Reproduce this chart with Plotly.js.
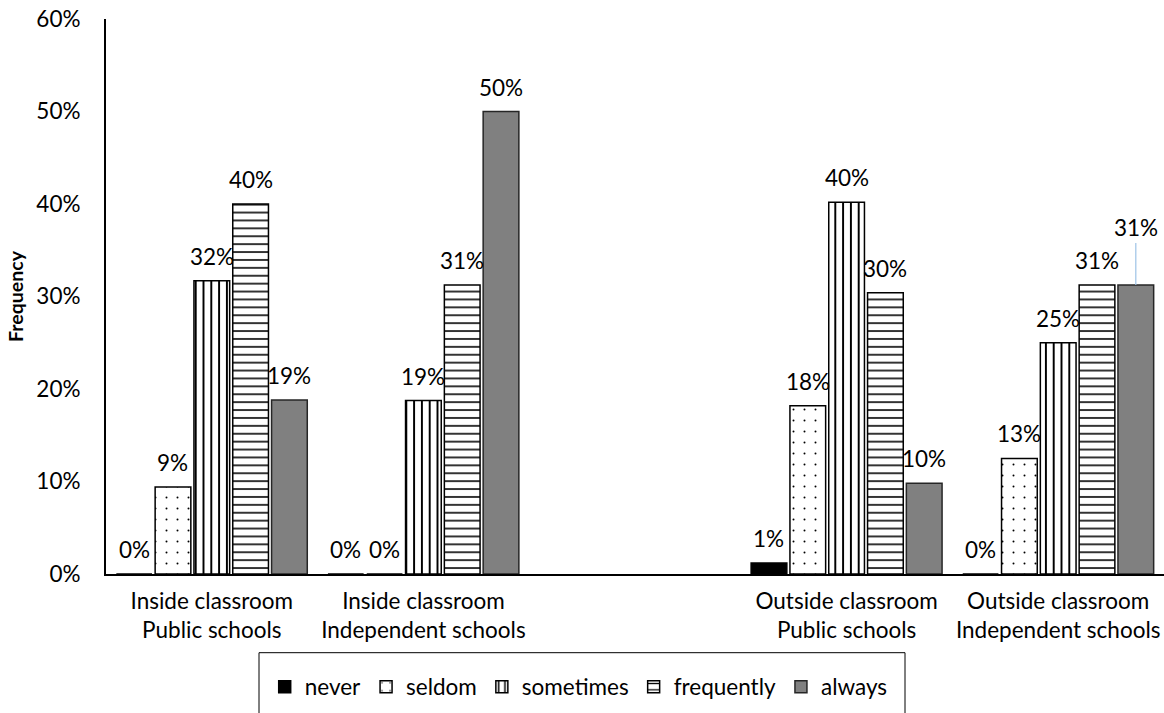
<!DOCTYPE html>
<html>
<head>
<meta charset="utf-8">
<script src="https://cdn.plot.ly/plotly-3.0.1.min.js"></script>
<style>
  html, body { margin: 0; padding: 0; background: #ffffff; }
  #chart { width: 1164px; height: 713px; }
</style>
</head>
<body>
<div id="chart"></div>
<script>
// Category slots along the x axis; the blank slot separates the inside/outside blocks.
const categories = [
  'Inside classroom<br>Public schools',
  'Inside classroom<br>Independent schools',
  ' ',
  'Outside classroom<br>Public schools',
  'Outside classroom<br>Independent schools'
];

// Response frequencies (percent) per category; null = empty slot.
const never      = [0,    0,     null, 1.2,  0];
const seldom     = [9.4,  0,     null, 18.2, 12.5];
const sometimes  = [31.7, 18.75, null, 40.2, 25];
const frequently = [40.0, 31.25, null, 30.4, 31.25];
const always     = [18.8, 50,    null, 9.8,  31.25];

const seriesNames = ['never', 'seldom', 'sometimes', 'frequently', 'always'];
const yTickVals = [0, 10, 20, 30, 40, 50, 60];

const FONT = 'Lato, "Open Sans", sans-serif';
const TEXT_SIZE = 22.5;
const BARGAP = 0.083;
const BARGROUPGAP = 0.08;

const seriesValues = [never, seldom, sometimes, frequently, always];

const markerStyles = [
  { color: '#000000', line: { color: '#000000', width: 1.5 } },
  { color: '#ffffff', line: { color: '#000000', width: 1.5 },
    pattern: { shape: '.', fgcolor: '#000000', bgcolor: '#ffffff', size: 11, solidity: 0.025 } },
  { color: '#ffffff', line: { color: '#000000', width: 1.5 },
    pattern: { shape: '|', fgcolor: '#000000', bgcolor: '#ffffff', size: 7.8, solidity: 0.25 } },
  { color: '#ffffff', line: { color: '#000000', width: 1.5 },
    pattern: { shape: '-', fgcolor: '#000000', bgcolor: '#ffffff', size: 7.9, solidity: 0.2 } },
  { color: '#808080', line: { color: '#262626', width: 1.5 } }
];

const traces = seriesNames.map((name, i) => ({
  type: 'bar',
  name: name,
  x: categories,
  y: seriesValues[i],
  marker: markerStyles[i],
  hoverinfo: 'x+y+name'
}));

// Value labels above each bar, placed at the bar's slot inside its group.
const nSeries = seriesNames.length;
const slotWidth = (1 - BARGAP) / nSeries;
const labelFont = { family: FONT, size: TEXT_SIZE, color: '#000000' };
// The label of one bar sits higher, joined to its bar by a leader line.
const liftedLabel = { series: 4, category: 4, lift: 57 };

const annotations = [];
seriesValues.forEach((vals, i) => {
  vals.forEach((v, j) => {
    if (v === null) return;
    const xPos = j + (i - (nSeries - 1) / 2) * slotWidth;
    const label = Math.round(v) + '%';
    if (i === liftedLabel.series && j === liftedLabel.category) {
      annotations.push({
        xref: 'x', yref: 'y', x: xPos, y: v, text: label, font: labelFont,
        showarrow: true, arrowhead: 0, arrowwidth: 1.2, arrowcolor: '#9dc3e6',
        ax: 0, ay: -liftedLabel.lift, standoff: 0
      });
    } else {
      annotations.push({
        xref: 'x', yref: 'y', x: xPos, y: v, text: label, font: labelFont,
        showarrow: false, yanchor: 'bottom', yshift: 9
      });
    }
  });
});

const layout = {
  width: 1164,
  height: 713,
  margin: { l: 106, r: 0, t: 19, b: 139, pad: 0 },
  paper_bgcolor: '#ffffff',
  plot_bgcolor: '#ffffff',
  font: { family: FONT, size: TEXT_SIZE, color: '#000000' },
  barmode: 'group',
  bargap: BARGAP,
  bargroupgap: BARGROUPGAP,
  showlegend: true,
  legend: {
    orientation: 'h',
    x: 0.150, xanchor: 'left',
    y: -0.165, yanchor: 'top',
    bgcolor: 'rgba(0,0,0,0)',
    borderwidth: 0,
    font: { family: FONT, size: TEXT_SIZE, color: '#000000' },
    traceorder: 'normal'
  },
  xaxis: {
    type: 'category',
    categoryorder: 'array',
    categoryarray: categories,
    range: [-0.5, categories.length - 0.5],
    showline: true, linecolor: '#000000', linewidth: 2,
    showgrid: false, zeroline: false,
    ticks: '',
    ticklabelstandoff: 6,
    tickfont: { family: FONT, size: TEXT_SIZE, color: '#000000' },
    fixedrange: true
  },
  yaxis: {
    range: [0, 60],
    tickvals: yTickVals,
    ticktext: yTickVals.map(v => v + '%'),
    showline: true, linecolor: '#000000', linewidth: 2,
    showgrid: false, zeroline: false,
    ticks: '',
    ticklabelstandoff: 19,
    tickfont: { family: FONT, size: TEXT_SIZE, color: '#000000' },
    title: { text: 'Frequency', font: { family: FONT, size: 19.5, color: '#000000', weight: 'bold' }, standoff: 8 },
    fixedrange: true
  },
  annotations: annotations,
  shapes: [{
    type: 'rect', xref: 'paper', yref: 'paper',
    x0: (259 - 106) / 1058, x1: (905 - 106) / 1058,
    y0: -0.1418, y1: -0.3,
    line: { color: '#000000', width: 1 },
    fillcolor: 'rgba(0,0,0,0)'
  }]
};

Plotly.newPlot('chart', traces, layout, { displayModeBar: false, staticPlot: true });
</script>
</body>
</html>
